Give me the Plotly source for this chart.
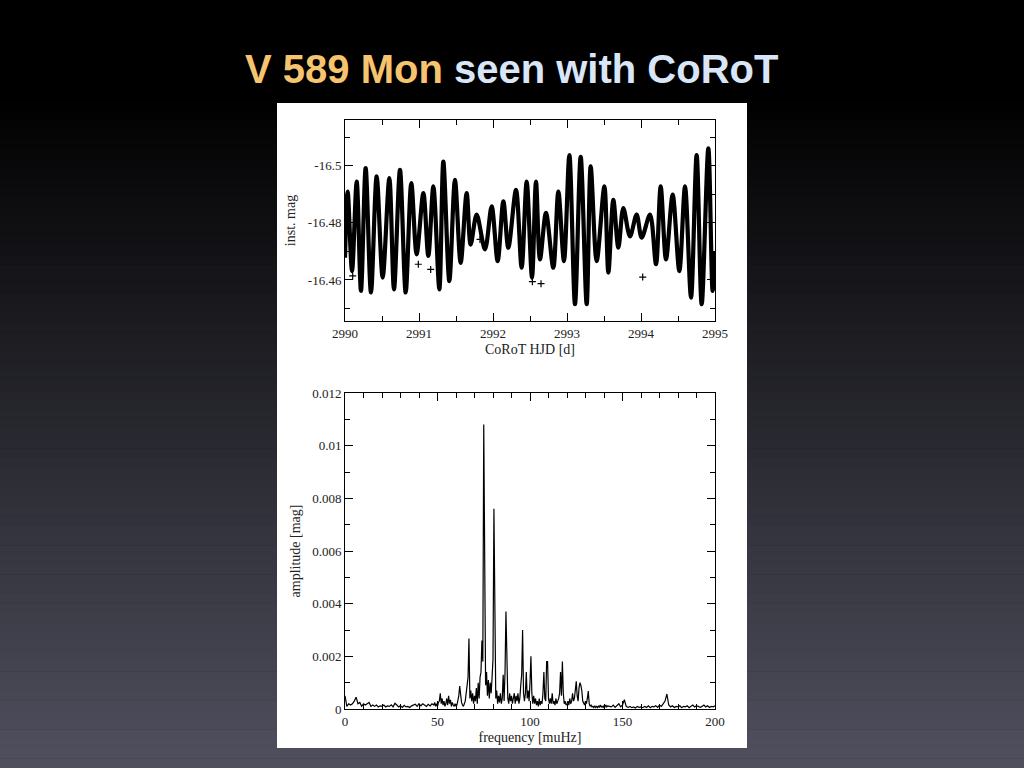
import numpy as np
import plotly.graph_objects as go

# ---------------- data ----------------
# Light curve: successive extrema (HJD, instrumental magnitude)
lc_time = [2990.000, 2990.036, 2990.095, 2990.158, 2990.216, 2990.279, 2990.351, 2990.428,
           2990.509, 2990.599, 2990.662, 2990.743, 2990.820, 2990.896, 2990.968, 2991.059,
           2991.126, 2991.194, 2991.275, 2991.329, 2991.410, 2991.486, 2991.563, 2991.644,
           2991.698, 2991.779, 2991.892, 2991.982, 2992.063, 2992.140, 2992.207, 2992.311,
           2992.387, 2992.455, 2992.527, 2992.581, 2992.635, 2992.716, 2992.815, 2992.883,
           2992.959, 2993.032, 2993.108, 2993.185, 2993.266, 2993.320, 2993.401, 2993.505,
           2993.559, 2993.626, 2993.694, 2993.761, 2993.851, 2993.941, 2994.009, 2994.122,
           2994.203, 2994.266, 2994.338, 2994.428, 2994.518, 2994.595, 2994.676, 2994.752,
           2994.820, 2994.910, 2994.968, 2995.000]
lc_mag = [-16.4678, -16.4910, -16.4631, -16.4945, -16.4562, -16.4992, -16.4556, -16.4963,
          -16.4608, -16.4957, -16.4567, -16.4986, -16.4556, -16.4940, -16.4690, -16.4905,
          -16.4684, -16.4928, -16.4567, -16.5015, -16.4596, -16.4951, -16.4660, -16.4905,
          -16.4724, -16.4829, -16.4707, -16.4858, -16.4666, -16.4876, -16.4713, -16.4916,
          -16.4643, -16.4945, -16.4608, -16.4945, -16.4672, -16.4835, -16.4643, -16.4910,
          -16.4666, -16.5038, -16.4515, -16.5032, -16.4515, -16.4998, -16.4666, -16.4928,
          -16.4626, -16.4881, -16.4713, -16.4852, -16.4753, -16.4829, -16.4748, -16.4829,
          -16.4655, -16.4928, -16.4672, -16.4899, -16.4631, -16.4928, -16.4538, -16.5038,
          -16.4515, -16.5062, -16.4562, -16.4701]
# isolated outlying points
out_time = [2990.104, 2990.991, 2991.158, 2991.824, 2992.532, 2992.649, 2994.023]
out_mag = [-16.4614, -16.4655, -16.4637, -16.4742, -16.4594, -16.4587, -16.4610]

# Amplitude spectrum (amplitudes in units of 1e-4 mag)
amp_low_1e4 = [5, 1, 2, 1.5, 2, 3, 4.5, 2, 2.5, 1,            # 0-47 muHz, step 1
               2, 1.5, 2, 2.5, 1, 1.5, 1, 1.5, 0.8, 1.2,
               1, 1.5, 0.8, 1.2, 1, 1.6, 0.8, 2.2, 1.5, 0.8,
               1.2, 0.6, 1.4, 0.8, 1, 0.6, 1.2, 1.5, 1.8, 1,
               2, 1.2, 2, 1.5, 1, 1.8, 1.2, 2]
amp_mid_1e4 = [1.5, 2.5, 1, 2, 1, 2.5, 3, 6, 2, 4,            # 48-142.5 muHz, step 0.5
               1.5, 3, 1, 2, 4, 1.5, 5, 2, 3.5, 1,
               2.5, 1.5, 1, 2, 1, 1.5, 3, 5, 8.7, 5,
               2.5, 1.5, 1, 2, 3, 6, 9, 12, 26.8, 4,
               7, 3, 6, 2, 5, 3, 8, 2, 10, 4,
               12, 14, 26, 18, 108, 25, 9, 14, 5, 11,
               4, 10, 6, 12, 19, 76, 20, 4, 7, 2,
               5, 2.5, 6, 2, 4, 13, 3, 14, 37, 12,
               4, 2, 6, 3, 5, 2, 4, 6, 2, 5,
               3, 6, 2, 4, 9, 13, 30, 6, 3, 6,
               14, 4, 7, 3, 10, 20, 6, 2, 5, 2,
               4, 1.5, 3, 1, 4, 1.5, 3, 2, 6, 14,
               4, 3, 18, 18, 4, 2, 4, 2, 6, 2,
               3, 1.5, 4, 2, 3, 4, 6, 14, 5, 18,
               6, 2, 3, 1.5, 2, 3, 1.5, 4, 2, 3,
               6, 3, 4, 8, 10.5, 5, 3, 8, 10, 9,
               7, 3, 2, 1.5, 3, 2, 4, 6.8, 2, 1,
               1.5, 0.8, 1, 0.5, 1.2, 0.6, 1, 0.5, 1.2, 0.6,
               1.5, 0.8, 1, 0.6, 1.2, 0.8, 1.5, 0.8, 1.2, 1]
amp_high_1e4 = [1, 0.8, 1.5, 0.6, 1.2, 2, 0.8, 1.5, 3.5, 1,   # 143-200 muHz, step 1
                0.6, 1, 0.5, 0.8, 0.4, 1, 0.6, 0.8, 0.5, 1,
                0.6, 1.2, 0.5, 1, 0.8, 1.2, 0.6, 1.5, 1, 2,
                3, 5.7, 1.5, 0.8, 1.2, 0.6, 1, 0.8, 1.2, 0.5,
                1, 0.8, 1.2, 0.5, 1, 1.5, 0.8, 1.2, 1, 0.6,
                1, 1.5, 0.8, 1.2, 0.6, 1, 0.8, 1.2]

freq_low = np.arange(len(amp_low_1e4)) * 1.0
freq_mid = 48 + np.arange(len(amp_mid_1e4)) * 0.5
freq_high = 143 + np.arange(len(amp_high_1e4)) * 1.0
spec_freq = np.concatenate([freq_low, freq_mid, freq_high])
spec_amp = np.concatenate([amp_low_1e4, amp_mid_1e4, amp_high_1e4]) * 1e-4

# tick labels
lc_xticks = [2990, 2991, 2992, 2993, 2994, 2995]
lc_yticks = [-16.5, -16.48, -16.46]
lc_ytext = ["-16.5", "-16.48", "-16.46"]
sp_xticks = [0, 50, 100, 150, 200]
sp_yticks = [0, 0.002, 0.004, 0.006, 0.008, 0.01, 0.012]
sp_ytext = ["0", "0.002", "0.004", "0.006", "0.008", "0.01", "0.012"]

# ---------------- figure ----------------
W, H = 1024, 768
SERIF = "Liberation Serif, Times New Roman, serif"

fig = go.Figure()
fig.add_trace(go.Scatter(x=lc_time, y=lc_mag, mode="lines",
                         line=dict(color="black", width=4.2, shape="spline", smoothing=0.9),
                         xaxis="x", yaxis="y", showlegend=False, hoverinfo="skip"))
fig.add_trace(go.Scatter(x=out_time, y=out_mag, mode="markers",
                         marker=dict(symbol="cross-thin", size=5, line=dict(color="black", width=1.2)),
                         xaxis="x", yaxis="y", showlegend=False, hoverinfo="skip"))
fig.add_trace(go.Scatter(x=spec_freq, y=spec_amp, mode="lines",
                         line=dict(color="black", width=1.2),
                         xaxis="x2", yaxis="y2", showlegend=False, hoverinfo="skip"))

def px_x(p):
    return p / W

def px_y(p):
    return 1 - p / H

axis_common = dict(showgrid=False, zeroline=False, showline=True, linecolor="black",
                   linewidth=1, mirror="ticks", ticks="inside", ticklen=8, tickwidth=1,
                   tickcolor="black", automargin=False,
                   tickfont=dict(family=SERIF, size=13, color="#222"),
                   title_font=dict(family=SERIF, size=14, color="#222"))

shapes = []
# background gradient (black -> slate)
n = 70
top0 = 90
c0 = np.array([0, 0, 0])
c1 = np.array([80, 80, 95])
shapes.append(dict(type="rect", xref="paper", yref="paper", x0=0, x1=1, y0=px_y(top0), y1=1,
                   fillcolor="black", line_width=0, layer="below"))
for i in range(n):
    ya = top0 + (H - top0) * i / n
    yb = top0 + (H - top0) * (i + 1) / n
    c = c0 + (c1 - c0) * (i + 0.5) / n
    shapes.append(dict(type="rect", xref="paper", yref="paper", x0=0, x1=1,
                       y0=px_y(yb + 0.5), y1=px_y(ya),
                       fillcolor="rgb(%d,%d,%d)" % tuple(c.astype(int)), line_width=0, layer="below"))
# white figure panel
shapes.append(dict(type="rect", xref="paper", yref="paper", x0=px_x(277), x1=px_x(747),
                   y0=px_y(748), y1=px_y(103), fillcolor="white", line_width=0, layer="below"))

fig.update_layout(
    width=W, height=H,
    margin=dict(l=0, r=0, t=0, b=0, pad=0, autoexpand=False),
    paper_bgcolor="black", plot_bgcolor="rgba(0,0,0,0)",
    shapes=shapes,
    xaxis=dict(axis_common, domain=[px_x(345), px_x(715)], anchor="y", range=[2990, 2995],
               tickvals=lc_xticks, ticktext=[str(v) for v in lc_xticks],
               minor=dict(ticks="inside", ticklen=5, tickcolor="black",
                          tickvals=list(np.arange(2990.5, 2995, 1.0))),
               title=dict(text="CoRoT HJD [d]", standoff=4)),
    yaxis=dict(axis_common, domain=[px_y(321), px_y(120)], anchor="x",
               range=[-16.4456, -16.5161],
               tickvals=lc_yticks, ticktext=lc_ytext,
               minor=dict(ticks="inside", ticklen=5, tickcolor="black",
                          tickvals=[-16.51, -16.49, -16.47, -16.45]),
               title=dict(text="inst. mag", standoff=8)),
    xaxis2=dict(axis_common, domain=[px_x(345), px_x(715)], anchor="y2", range=[0, 200],
                tickvals=sp_xticks, ticktext=[str(v) for v in sp_xticks],
                minor=dict(ticks="inside", ticklen=5, tickcolor="black",
                           tickvals=[v for v in range(10, 200, 10) if v % 50 != 0]),
                title=dict(text="frequency [muHz]", standoff=4)),
    yaxis2=dict(axis_common, domain=[px_y(709), px_y(393)], anchor="x2", range=[0, 0.012],
                tickvals=sp_yticks, ticktext=sp_ytext,
                minor=dict(ticks="inside", ticklen=5, tickcolor="black",
                           tickvals=[0.001, 0.003, 0.005, 0.007, 0.009, 0.011]),
                title=dict(text="amplitude [mag]", standoff=8)),
    annotations=[dict(
        xref="paper", yref="paper", x=px_x(511), y=px_y(69), xanchor="center", yanchor="middle",
        showarrow=False,
        text='<b><span style="color:#F6C46E">V 589 Mon</span> seen with CoRoT</b>',
        font=dict(family="Liberation Sans, Arial, sans-serif", size=40, color="#D9E6F8"))],
)

# remove the default page margin so the 1024x768 figure fills the window exactly
page_fix = ("document.documentElement.style.margin='0';document.documentElement.style.padding='0';"
            "document.documentElement.style.overflow='hidden';"
            "document.body.style.margin='0';document.body.style.padding='0';"
            "document.body.style.overflow='hidden';document.body.style.background='black';")

fig.write_html("out.html", post_script=page_fix, config={"displayModeBar": False})
